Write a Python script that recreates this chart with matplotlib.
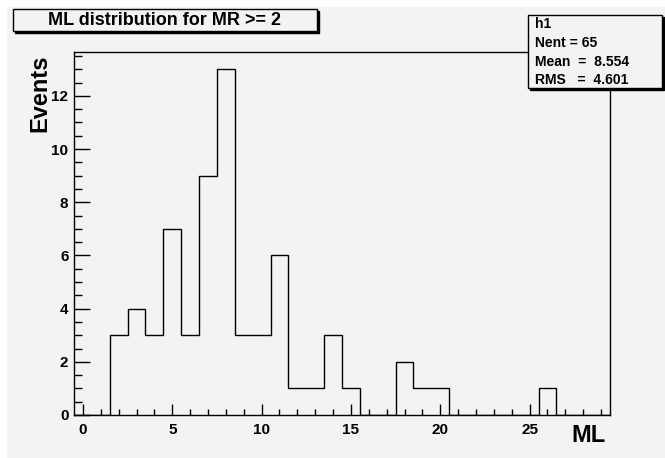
import numpy as np
import matplotlib
matplotlib.use("Agg")
import matplotlib.pyplot as plt
from matplotlib.patches import Rectangle
from matplotlib.ticker import MultipleLocator

# ---- data ----
bin_low = -0.5
bin_high = 29.5
counts = [0, 0, 3, 4, 3, 7, 3, 9, 13, 3, 3, 6, 1, 1, 3, 1, 0, 0, 2, 1, 1,
          0, 0, 0, 0, 0, 1, 0, 0, 0]
title = "ML distribution for MR >= 2"
stats_lines = ["h1", "Nent = 65", "Mean  =  8.554", "RMS   =  4.601"]
x_label = "ML"
y_label = "Events"
x_major = [0, 5, 10, 15, 20, 25]
y_major = [0, 2, 4, 6, 8, 10, 12]

W, H = 665, 458
BG = "#f3f3f3"
FONT = "Liberation Sans"

def fx(x):
    return x / W

def fy(y):
    return 1 - y / H

fig = plt.figure(figsize=(W / 100, H / 100), dpi=100, facecolor="white")

# grey canvas
fig.patches.append(Rectangle((fx(7), 0), 1 - fx(7), fy(7), transform=fig.transFigure,
                             facecolor=BG, edgecolor="none", zorder=-10))

# axes frame: left 74, right 610, top 52, bottom 415
L, R, T, B = 74, 610, 52, 415
ax = fig.add_axes([fx(L), fy(B), fx(R) - fx(L), fy(T) - fy(B)])
ax.set_zorder(1)
ax.set_facecolor(BG)

edges = np.linspace(bin_low, bin_high, len(counts) + 1)
ax.stairs(counts, edges, color="black", lw=1.0)

ax.set_xlim(bin_low, bin_high)
ax.set_ylim(0, 1.05 * max(counts))

for s in ax.spines.values():
    s.set_color("black")
    s.set_linewidth(1.0)

ax.set_xticks(x_major)
ax.set_yticks(y_major)
ax.xaxis.set_minor_locator(MultipleLocator(1))
ax.yaxis.set_minor_locator(MultipleLocator(0.5))
ax.tick_params(axis="x", which="major", direction="in", length=8, width=1,
               pad=6, labelsize=11, top=False)
ax.tick_params(axis="x", which="minor", direction="in", length=4, width=1, top=False)
ax.tick_params(axis="y", which="major", direction="in", length=11.5, width=1,
               pad=4, labelsize=11, right=False)
ax.tick_params(axis="y", which="minor", direction="in", length=5.8, width=1, right=False)
for lab in ax.get_xticklabels() + ax.get_yticklabels():
    lab.set_fontweight("bold")
    lab.set_fontfamily(FONT)

# axis titles
fig.text(fx(606), fy(435), x_label, ha="right", va="center", fontsize=17,
         fontweight="bold", fontfamily=FONT)
fig.text(fx(40), fy(54), y_label, ha="center", va="top", rotation=90, fontsize=17,
         fontweight="bold", fontfamily=FONT)

# boxes with shadow
def box(x0, y0, x1, y1, sh=2):
    fig.patches.append(Rectangle((fx(x0 + sh), fy(y1 + sh)), fx(x1) - fx(x0), fy(y0) - fy(y1),
                                 transform=fig.transFigure, facecolor="black",
                                 edgecolor="black", lw=1, zorder=5))
    fig.patches.append(Rectangle((fx(x0), fy(y1)), fx(x1) - fx(x0), fy(y0) - fy(y1),
                                 transform=fig.transFigure, facecolor=BG,
                                 edgecolor="black", lw=1, zorder=6))

box(13, 9, 317, 31)
fig.text(fx(164), fy(20.5), title, ha="center", va="center", fontsize=13,
         fontweight="bold", fontfamily=FONT, zorder=7)

# stats box
box(528, 15, 662, 88)
for yy, line in zip([24, 43, 62, 80], stats_lines):
    fig.text(fx(535), fy(yy), line, ha="left", va="center", fontsize=10,
             fontweight="bold", fontfamily=FONT, zorder=7)

fig.savefig("out.png", dpi=100, facecolor="white")
